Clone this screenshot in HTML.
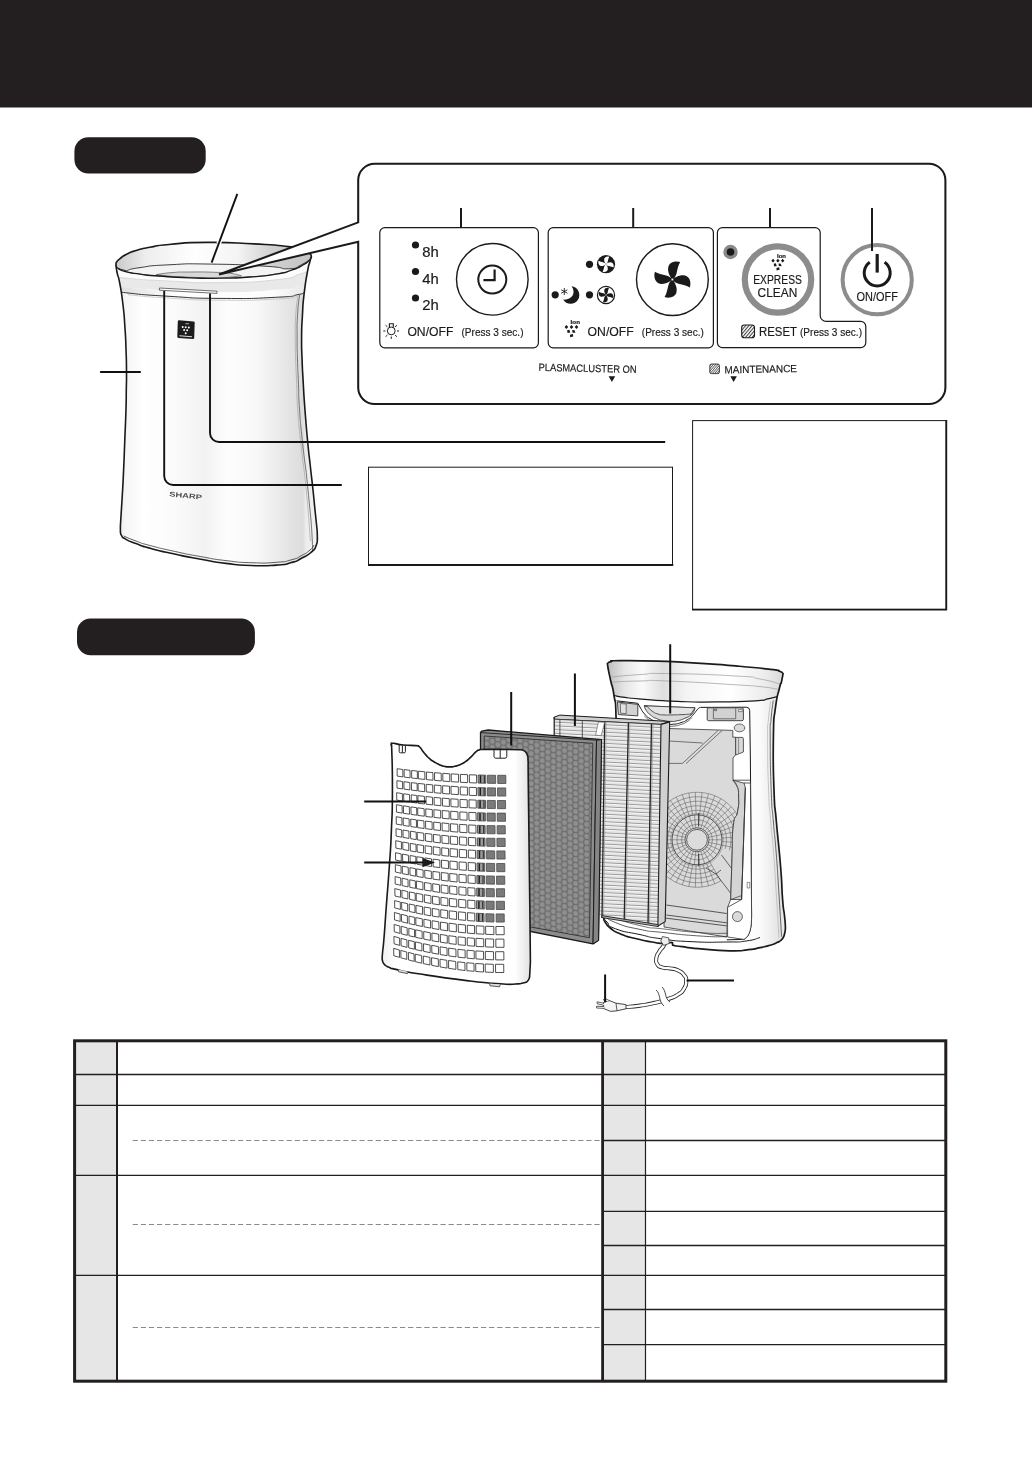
<!DOCTYPE html>
<html><head><meta charset="utf-8">
<style>
html,body{margin:0;padding:0;background:#fff;}
body{width:1032px;height:1457px;overflow:hidden;font-family:"Liberation Sans",sans-serif;}
svg{display:block;will-change:transform;}
text{font-family:"Liberation Sans",sans-serif;fill:#1a1a1a;stroke:#1a1a1a;stroke-width:0.18px;}
</style></head><body>
<svg width="1032" height="1457" viewBox="0 0 1032 1457">
<defs>
<pattern id="hatch" width="2.5" height="2.5" patternUnits="userSpaceOnUse" patternTransform="rotate(-50)"><rect width="2.5" height="2.5" fill="#fff"/><rect width="2.5" height="1" fill="#3a3a3a"/></pattern>
<g id="ion">
<text x="-0.9" y="-6.5" font-size="5.2" font-weight="bold" textLength="9.4" lengthAdjust="spacingAndGlyphs">Ion</text>
<path d="M-6.9,-3.5l1.8,-2l1.8,2l-1.8,2zM-1.8,-3.5l1.8,-2l1.8,2l-1.8,2zM3.2,-3.5l1.8,-2l1.8,2l-1.8,2zM-4.4,-0.2l2.2,-0.5l1,2.7l-2.7,0.6zM0.7,-0.6l2.4,0.3l0.8,2.6l-2.9,-0.1zM-1.6,4.2l3,-0.8l0.3,2.7l-3,0.7z" fill="#1a1a1a"/>
</g>
<path id="blade" d="M0,0C-2.2,-2.5 -5,-7.5 -4,-12C-3.2,-16.4 2,-18.6 7.6,-17C5.6,-14 5,-10 4,-6C3.2,-3 1.8,-1 0,0Z"/>
<g id="fan"><use href="#blade"/><use href="#blade" transform="rotate(90)"/><use href="#blade" transform="rotate(180)"/><use href="#blade" transform="rotate(270)"/></g>
<pattern id="hatch2" width="1.7" height="1.7" patternUnits="userSpaceOnUse" patternTransform="rotate(-50)"><rect width="1.7" height="1.7" fill="#fff"/><rect width="1.7" height="0.8" fill="#555"/></pattern>

<linearGradient id="gbody" x1="116" x2="318" y1="0" y2="0" gradientUnits="userSpaceOnUse">
<stop offset="0" stop-color="#e8e8e8"/><stop offset="0.05" stop-color="#f6f6f6"/><stop offset="0.14" stop-color="#fff"/><stop offset="0.30" stop-color="#fafafa"/><stop offset="0.44" stop-color="#f2f2f2"/><stop offset="0.55" stop-color="#fdfdfd"/><stop offset="0.70" stop-color="#f8f8f8"/><stop offset="0.84" stop-color="#e6e6e6"/><stop offset="0.925" stop-color="#dcdcdc"/><stop offset="0.94" stop-color="#ececec"/><stop offset="1" stop-color="#f2f2f2"/>
</linearGradient>
<linearGradient id="ginner" x1="116" x2="312" y1="0" y2="0" gradientUnits="userSpaceOnUse">
<stop offset="0" stop-color="#c9c9c9"/><stop offset="0.15" stop-color="#ededed"/><stop offset="0.4" stop-color="#fff"/><stop offset="0.62" stop-color="#f4f4f4"/><stop offset="0.8" stop-color="#d0d0d0"/><stop offset="1" stop-color="#c4c4c4"/>
</linearGradient>
<linearGradient id="gband2" x1="116" x2="312" y1="0" y2="0" gradientUnits="userSpaceOnUse"><stop offset="0" stop-color="#dcdcdc"/><stop offset="0.18" stop-color="#f0f0f0"/><stop offset="0.3" stop-color="#fdfdfd"/><stop offset="0.8" stop-color="#fdfdfd"/><stop offset="0.95" stop-color="#eaeaea"/><stop offset="1" stop-color="#e4e4e4"/></linearGradient>
<clipPath id="cbody"><path d="M115.9,265.0C116.4,268.0 116.1,268.0 117.4,274.0C118.7,280.0 117.8,272.7 119.7,283.0C121.6,293.3 121.3,290.3 123.0,305.0C124.7,319.7 123.9,312.3 124.9,327.0C125.9,341.7 125.5,334.3 126.0,349.0C126.5,363.7 126.4,357.3 126.5,371.0C126.6,384.7 126.5,377.3 126.3,390.0C126.1,402.7 126.5,392.3 126.0,409.0C125.5,425.7 125.6,419.7 124.8,440.0C124.0,460.3 124.5,450.0 123.6,470.0C122.7,490.0 123.1,481.3 122.0,500.0C120.9,518.7 120.9,517.3 120.4,526.0L120.4,532.0C120.8,533.2 120.0,533.3 121.6,535.6C123.2,537.9 120.4,536.2 125.2,538.9C130.0,541.6 127.6,540.5 136.0,543.6C144.4,546.7 137.2,544.7 150.4,548.3C163.6,551.9 158.8,550.6 175.6,554.3C192.4,558.0 184.0,556.3 200.8,559.3C217.6,562.3 209.2,561.3 226.0,563.4C242.8,565.5 234.3,564.9 251.1,565.5C267.9,566.1 262.9,566.1 276.3,565.1C289.7,564.1 283.0,564.9 291.4,562.6C299.8,560.3 294.8,561.8 301.5,558.3C308.2,554.8 306.7,556.3 311.6,552.0C316.5,547.7 314.3,549.7 316.2,545.4C318.1,541.1 317.0,541.1 317.4,539.0L317.2,531.0C316.5,524.0 316.4,523.7 315.0,510.0C313.6,496.3 314.6,505.0 313.0,490.0C311.4,475.0 311.9,480.7 310.2,465.0C308.5,449.3 309.6,461.7 307.8,443.0C306.0,424.3 306.4,429.3 304.9,409.0C303.4,388.7 304.1,398.3 303.2,382.0C302.3,365.7 302.6,374.7 302.1,360.0C301.6,345.3 301.5,352.7 301.6,338.0C301.7,323.3 301.6,330.7 302.4,316.0C303.2,301.3 302.4,308.7 304.1,294.0C305.8,279.3 305.5,282.7 307.4,272.0C309.3,261.3 308.5,267.1 309.8,262.0C311.1,256.9 310.9,258.5 311.4,256.7L311.4,256.7C310.8,255.6 312.3,255.6 309.5,253.4C306.7,251.2 310.0,252.3 303.0,250.0C296.0,247.7 304.6,248.6 288.4,246.6C272.2,244.6 281.3,245.3 254.3,243.9C227.3,242.5 235.7,242.2 207.3,242.4C178.9,242.6 188.1,242.9 169.0,244.5C149.9,246.1 160.7,245.4 150.0,247.3C139.3,249.2 144.7,248.1 137.0,250.3C129.3,252.5 132.7,251.2 127.0,254.0C121.3,256.8 123.5,255.9 120.0,258.6C116.5,261.3 117.9,260.2 116.6,262.0C115.3,263.8 116.3,263.4 116.1,264.1Z"/></clipPath>

<linearGradient id="grim2" x1="607" x2="783" y1="0" y2="0" gradientUnits="userSpaceOnUse">
<stop offset="0" stop-color="#bdbdbd"/><stop offset="0.1" stop-color="#e6e6e6"/><stop offset="0.2" stop-color="#fafafa"/><stop offset="0.32" stop-color="#dedede"/><stop offset="0.45" stop-color="#f4f4f4"/><stop offset="0.7" stop-color="#fff"/><stop offset="0.9" stop-color="#ececec"/><stop offset="1" stop-color="#d8d8d8"/>
</linearGradient>
<linearGradient id="gbody2" x1="740" x2="786" y1="0" y2="0" gradientUnits="userSpaceOnUse">
<stop offset="0" stop-color="#fff"/><stop offset="0.45" stop-color="#fafafa"/><stop offset="0.7" stop-color="#ececec"/><stop offset="0.88" stop-color="#e2e2e2"/><stop offset="1" stop-color="#f2f2f2"/>
</linearGradient>
<linearGradient id="ggrille" x1="384" x2="531" y1="0" y2="0" gradientUnits="userSpaceOnUse">
<stop offset="0" stop-color="#f2f2f2"/><stop offset="0.08" stop-color="#fff"/><stop offset="0.89" stop-color="#fff"/><stop offset="0.96" stop-color="#ebebeb"/><stop offset="1" stop-color="#e2e2e2"/>
</linearGradient>
<pattern id="honey" width="11.1" height="6" patternUnits="userSpaceOnUse" patternTransform="translate(484,736) skewY(5)">
<rect width="11.1" height="6" fill="#6e6e6e"/><circle cx="2.8" cy="1.5" r="2.45" fill="#909090"/><circle cx="2.8" cy="7.5" r="2.45" fill="#909090"/><circle cx="8.35" cy="4.5" r="2.45" fill="#909090"/><circle cx="8.35" cy="-1.5" r="2.45" fill="#909090"/>
</pattern>
<pattern id="pleat" width="10" height="3.73" patternUnits="userSpaceOnUse" patternTransform="translate(600,724) skewY(3)">
<rect width="10" height="3.73" fill="#e4e4e4"/><rect y="0" width="10" height="0.8" fill="#7c7c7c"/><rect y="0.8" width="10" height="1.1" fill="#f6f6f6"/>
</pattern>
<clipPath id="cbody2"><path d="M607.4,663.6C608.6,662.9 607.0,662.6 611.0,661.6C615.0,660.6 603.7,660.8 619.4,660.7C635.1,660.6 632.3,660.4 658.1,661.2C683.9,662.0 671.0,661.6 696.9,663.2C722.8,664.8 711.2,663.8 735.7,665.9C760.2,668.0 755.9,667.6 770.5,669.4C785.1,671.2 775.3,669.8 779.5,671.2C783.7,672.6 781.9,672.8 783.1,673.6L781.3,682.8C780.6,684.8 781.3,680.4 779.3,688.8C777.3,697.2 777.4,692.0 775.4,708.1C773.4,724.2 773.9,709.9 773.4,737.2C772.9,764.5 773.0,761.7 774.0,790.0C775.0,818.3 774.2,796.4 776.4,822.0C778.6,847.6 778.5,840.9 780.6,866.7C782.7,892.5 781.3,883.4 782.6,899.5C783.9,915.6 783.5,906.5 784.4,915.0C785.3,923.5 785.0,919.7 785.3,925.0C785.6,930.3 785.2,929.0 785.2,931.0L784.0,936.0C783.1,937.3 783.7,937.6 781.4,939.8C779.1,942.0 780.8,940.8 777.0,942.6C773.2,944.4 775.7,943.5 770.0,945.2C764.3,946.9 767.2,946.1 760.0,947.6C752.8,949.1 758.7,948.5 748.5,949.6C738.3,950.7 746.2,951.1 729.5,950.8C712.8,950.5 714.3,950.0 698.5,948.6C682.7,947.2 690.0,947.6 682.0,946.6C674.0,945.6 677.5,946.3 674.4,945.6C671.3,944.9 673.4,945.4 672.6,944.4C671.8,943.4 673.5,943.1 672.0,942.6C670.5,942.1 671.8,942.8 668.0,943.0C664.2,943.2 665.8,943.6 660.5,943.3C655.2,943.0 660.0,943.5 652.0,942.0C644.0,940.5 646.8,941.4 636.5,938.8C626.2,936.2 629.8,937.8 621.0,934.2C612.2,930.6 615.9,932.7 610.2,928.0C604.5,923.3 606.1,922.8 604.0,920.2L603.5,915.0C604.3,903.3 603.2,911.7 606.0,880.0C608.8,848.3 608.8,860.0 612.0,820.0C615.2,780.0 614.2,794.7 615.5,760.0C616.8,725.3 616.5,737.5 616.0,716.0C615.5,694.5 615.8,707.5 614.0,695.5C612.2,683.5 612.5,689.2 610.5,680.0C608.5,670.8 608.8,672.0 608.0,668.0Z"/></clipPath><clipPath id="cfan"><path d="M664.0,780.0L733.0,780.2L737.0,786.0C737.5,789.0 738.4,786.6 738.6,795.0C738.8,803.4 739.4,801.2 737.7,811.2C736.0,821.2 735.2,811.2 733.4,825.1C731.6,839.0 733.1,828.2 732.2,853.0C731.3,877.8 731.2,884.0 730.7,899.5L664,899.5Z"/></clipPath></defs>
<!-- HEADER -->
<rect x="0" y="0" width="1032" height="107.5" fill="#231f20"/>
<rect x="74.4" y="137.2" width="131.3" height="36.3" rx="14" fill="#231f20"/>
<rect x="77" y="618.6" width="177.9" height="36.6" rx="13.5" fill="#231f20"/>

<g>
<path d="M115.9,265.0C116.4,268.0 116.1,268.0 117.4,274.0C118.7,280.0 117.8,272.7 119.7,283.0C121.6,293.3 121.3,290.3 123.0,305.0C124.7,319.7 123.9,312.3 124.9,327.0C125.9,341.7 125.5,334.3 126.0,349.0C126.5,363.7 126.4,357.3 126.5,371.0C126.6,384.7 126.5,377.3 126.3,390.0C126.1,402.7 126.5,392.3 126.0,409.0C125.5,425.7 125.6,419.7 124.8,440.0C124.0,460.3 124.5,450.0 123.6,470.0C122.7,490.0 123.1,481.3 122.0,500.0C120.9,518.7 120.9,517.3 120.4,526.0L120.4,532.0C120.8,533.2 120.0,533.3 121.6,535.6C123.2,537.9 120.4,536.2 125.2,538.9C130.0,541.6 127.6,540.5 136.0,543.6C144.4,546.7 137.2,544.7 150.4,548.3C163.6,551.9 158.8,550.6 175.6,554.3C192.4,558.0 184.0,556.3 200.8,559.3C217.6,562.3 209.2,561.3 226.0,563.4C242.8,565.5 234.3,564.9 251.1,565.5C267.9,566.1 262.9,566.1 276.3,565.1C289.7,564.1 283.0,564.9 291.4,562.6C299.8,560.3 294.8,561.8 301.5,558.3C308.2,554.8 306.7,556.3 311.6,552.0C316.5,547.7 314.3,549.7 316.2,545.4C318.1,541.1 317.0,541.1 317.4,539.0L317.2,531.0C316.5,524.0 316.4,523.7 315.0,510.0C313.6,496.3 314.6,505.0 313.0,490.0C311.4,475.0 311.9,480.7 310.2,465.0C308.5,449.3 309.6,461.7 307.8,443.0C306.0,424.3 306.4,429.3 304.9,409.0C303.4,388.7 304.1,398.3 303.2,382.0C302.3,365.7 302.6,374.7 302.1,360.0C301.6,345.3 301.5,352.7 301.6,338.0C301.7,323.3 301.6,330.7 302.4,316.0C303.2,301.3 302.4,308.7 304.1,294.0C305.8,279.3 305.5,282.7 307.4,272.0C309.3,261.3 308.5,267.1 309.8,262.0C311.1,256.9 310.9,258.5 311.4,256.7L311.4,256.7C310.8,255.6 312.3,255.6 309.5,253.4C306.7,251.2 310.0,252.3 303.0,250.0C296.0,247.7 304.6,248.6 288.4,246.6C272.2,244.6 281.3,245.3 254.3,243.9C227.3,242.5 235.7,242.2 207.3,242.4C178.9,242.6 188.1,242.9 169.0,244.5C149.9,246.1 160.7,245.4 150.0,247.3C139.3,249.2 144.7,248.1 137.0,250.3C129.3,252.5 132.7,251.2 127.0,254.0C121.3,256.8 123.5,255.9 120.0,258.6C116.5,261.3 117.9,260.2 116.6,262.0C115.3,263.8 116.3,263.4 116.1,264.1Z" fill="url(#gbody)"/>
<g clip-path="url(#cbody)">
<path d="M311.4,256.7C310.8,255.6 312.3,255.6 309.5,253.4C306.7,251.2 310.0,252.3 303.0,250.0C296.0,247.7 304.6,248.6 288.4,246.6C272.2,244.6 281.3,245.3 254.3,243.9C227.3,242.5 235.7,242.2 207.3,242.4C178.9,242.6 188.1,242.9 169.0,244.5C149.9,246.1 160.7,245.4 150.0,247.3C139.3,249.2 144.7,248.1 137.0,250.3C129.3,252.5 132.7,251.2 127.0,254.0C121.3,256.8 123.5,255.9 120.0,258.6C116.5,261.3 117.9,260.2 116.6,262.0C115.3,263.8 116.3,263.4 116.1,264.1L116.3,265.5C117.0,266.5 115.1,266.5 118.4,268.6C121.7,270.7 119.1,269.9 126.3,271.8C133.5,273.7 129.3,272.8 140.0,274.2C150.7,275.6 141.6,274.8 158.3,276.0C175.0,277.2 169.4,277.1 190.0,277.8C210.6,278.5 200.0,278.5 220.0,278.2C240.0,277.9 231.5,278.3 250.0,277.0C268.5,275.7 261.6,276.5 275.6,274.2C289.6,271.9 282.9,273.1 292.0,270.0C301.1,266.9 297.3,268.2 303.0,265.0C308.7,261.8 306.2,263.2 309.0,260.5C311.8,257.8 310.5,258.2 311.3,257.0Z" fill="url(#ginner)"/>
<path d="M126.3,270.8C130.9,269.7 125.8,269.6 140.0,267.6C154.2,265.6 145.1,266.0 169.0,264.8C192.9,263.6 179.6,263.6 211.6,264.1C243.6,264.6 239.4,264.6 265.0,266.2C290.6,267.8 276.7,269.0 288.4,268.8C300.1,268.6 296.1,266.7 300.0,265.6L309.0,260.5C307.0,262.0 308.7,261.8 303.0,265.0C297.3,268.2 301.1,266.9 292.0,270.0C282.9,273.1 289.6,271.9 275.6,274.2C261.6,276.5 268.5,275.7 250.0,277.0C231.5,278.3 240.0,277.9 220.0,278.2C200.0,278.5 210.6,278.5 190.0,277.8C169.4,277.1 175.0,277.2 158.3,276.0C141.6,274.8 150.7,275.6 140.0,274.2C129.3,272.8 133.5,273.7 126.3,271.8C119.1,269.9 121.0,269.7 118.4,268.6Z" fill="#f3f3f3" stroke="#2a2a2a" stroke-width="0.9"/>
<path d="M156.2,274.6C161.5,273.9 160.6,273.5 172.0,272.6C183.4,271.7 175.0,272.1 190.3,272.0C205.6,271.9 204.1,271.9 218.0,272.4C231.9,272.9 224.2,272.4 232.0,273.6C239.8,274.8 238.3,275.1 241.5,275.9L220,278.2L175,276.8Z" fill="#d9d9d9" stroke="#555" stroke-width="0.7"/>
<path d="M116.3,265.5C117.0,266.5 115.1,266.5 118.4,268.6C121.7,270.7 119.1,269.9 126.3,271.8C133.5,273.7 129.3,272.8 140.0,274.2C150.7,275.6 141.6,274.8 158.3,276.0C175.0,277.2 169.4,277.1 190.0,277.8C210.6,278.5 200.0,278.5 220.0,278.2C240.0,277.9 231.5,278.3 250.0,277.0C268.5,275.7 261.6,276.5 275.6,274.2C289.6,271.9 282.9,273.1 292.0,270.0C301.1,266.9 297.3,268.2 303.0,265.0C308.7,261.8 306.2,263.2 309.0,260.5C311.8,257.8 310.5,258.2 311.3,257.0L309.8,270L309.8,270.0C306.5,271.3 311.4,270.7 300.0,274.0C288.6,277.3 302.3,276.9 275.6,279.8C248.9,282.7 255.5,282.2 220.0,282.6C184.5,283.0 200.7,282.5 169.0,281.0C137.3,279.5 142.1,279.5 125.0,278.0C107.9,276.5 120.1,277.0 117.6,276.5Z" fill="#fcfcfc"/>
<path d="M117.6,276.5C120.1,277.0 107.9,276.5 125.0,278.0C142.1,279.5 137.3,279.5 169.0,281.0C200.7,282.5 184.5,283.0 220.0,282.6C255.5,282.2 248.9,282.7 275.6,279.8C302.3,276.9 288.6,277.3 300.0,274.0C311.4,270.7 306.5,271.3 309.8,270.0L308.6,281.5L308.6,281.5C305.7,282.7 311.0,282.2 300.0,285.0C289.0,287.8 302.3,287.4 275.6,289.8C248.9,292.2 255.5,292.1 220.0,292.3C184.5,292.5 200.3,292.1 169.0,290.5C137.7,288.9 142.7,289.0 126.0,287.5C109.3,286.0 121.2,286.5 118.8,286.0Z" fill="#e9e9e9"/>
<path d="M118.8,286.0C121.2,286.5 109.3,286.0 126.0,287.5C142.7,289.0 137.7,288.9 169.0,290.5C200.3,292.1 184.5,292.5 220.0,292.3C255.5,292.1 248.9,292.2 275.6,289.8C302.3,287.4 289.0,287.8 300.0,285.0C311.0,282.2 305.7,282.7 308.6,281.5L304.5,292L304.5,292.0C302.3,292.9 307.6,292.8 298.0,294.6C288.4,296.4 301.6,296.0 275.6,297.3C249.6,298.6 255.5,298.7 220.0,298.4C184.5,298.1 199.7,298.1 169.0,296.3C138.3,294.5 144.3,294.8 128.0,293.0C111.7,291.2 122.8,291.7 120.2,291.0Z" fill="url(#gband2)"/>
<path d="M117.6,276.5C120.1,277.0 107.9,276.5 125.0,278.0C142.1,279.5 137.3,279.5 169.0,281.0C200.7,282.5 184.5,283.0 220.0,282.6C255.5,282.2 248.9,282.7 275.6,279.8C302.3,276.9 288.6,277.3 300.0,274.0C311.4,270.7 306.5,271.3 309.8,270.0" fill="none" stroke="#cfcfcf" stroke-width="0.7"/>
<path d="M120.2,291.0C122.8,291.7 111.7,291.2 128.0,293.0C144.3,294.8 138.3,294.5 169.0,296.3C199.7,298.1 184.5,298.1 220.0,298.4C255.5,298.7 249.6,298.6 275.6,297.3C301.6,296.0 288.4,296.4 298.0,294.6C307.6,292.8 302.3,292.9 304.5,292.0" fill="none" stroke="#333" stroke-width="1"/>
<path d="M128.0,294.8C141.7,295.9 138.3,296.3 169.0,298.1C199.7,299.9 184.5,299.9 220.0,300.2C255.5,300.5 249.6,300.4 275.6,299.1C301.6,297.8 290.5,297.3 298.0,296.4" fill="none" stroke="#bbb" stroke-width="0.7"/>
<path d="M299.5,295.0C298.8,302.0 298.3,301.7 297.5,316.0C296.7,330.3 297.1,323.3 297.1,338.0C297.1,352.7 297.1,345.3 297.5,360.0C297.9,374.7 297.7,365.7 298.4,382.0C299.1,398.3 298.1,388.7 299.5,409.0C300.9,429.3 299.8,416.0 302.6,443.0C305.4,470.0 304.8,457.3 308.0,490.0C311.2,522.7 311.3,520.3 312.3,541.0C313.3,561.7 311.4,548.3 311.0,552.0" fill="none" stroke="#555" stroke-width="0.8"/>
<path d="M297.7,297.0C297.0,303.3 296.5,302.3 295.7,316.0C294.9,329.7 295.3,323.3 295.3,338.0C295.3,352.7 295.3,345.3 295.7,360.0C296.1,374.7 295.9,365.7 296.6,382.0C297.3,398.3 296.3,388.7 297.7,409.0C299.1,429.3 298.0,416.0 300.8,443.0C303.6,470.0 303.0,457.3 306.2,490.0C309.4,522.7 309.0,524.0 310.4,541.0" fill="none" stroke="#999" stroke-width="0.6"/>
<path d="M123.6,536.0C127.7,537.7 127.1,537.8 136.0,541.0C144.9,544.2 137.2,542.1 150.4,545.6C163.6,549.1 158.8,547.9 175.6,551.6C192.4,555.3 184.0,553.6 200.8,556.6C217.6,559.6 209.2,558.6 226.0,560.6C242.8,562.6 234.3,562.1 251.1,562.7C267.9,563.3 262.9,563.3 276.3,562.3C289.7,561.3 283.0,562.0 291.4,559.8C299.8,557.6 295.3,558.9 301.5,555.6C307.7,552.3 305.8,553.5 310.0,550.0C314.2,546.5 312.7,546.7 314.0,545.0" fill="none" stroke="#333" stroke-width="0.8"/>
</g>
<path d="M115.9,265.0C116.4,268.0 116.1,268.0 117.4,274.0C118.7,280.0 117.8,272.7 119.7,283.0C121.6,293.3 121.3,290.3 123.0,305.0C124.7,319.7 123.9,312.3 124.9,327.0C125.9,341.7 125.5,334.3 126.0,349.0C126.5,363.7 126.4,357.3 126.5,371.0C126.6,384.7 126.5,377.3 126.3,390.0C126.1,402.7 126.5,392.3 126.0,409.0C125.5,425.7 125.6,419.7 124.8,440.0C124.0,460.3 124.5,450.0 123.6,470.0C122.7,490.0 123.1,481.3 122.0,500.0C120.9,518.7 120.9,517.3 120.4,526.0L120.4,532.0C120.8,533.2 120.0,533.3 121.6,535.6C123.2,537.9 120.4,536.2 125.2,538.9C130.0,541.6 127.6,540.5 136.0,543.6C144.4,546.7 137.2,544.7 150.4,548.3C163.6,551.9 158.8,550.6 175.6,554.3C192.4,558.0 184.0,556.3 200.8,559.3C217.6,562.3 209.2,561.3 226.0,563.4C242.8,565.5 234.3,564.9 251.1,565.5C267.9,566.1 262.9,566.1 276.3,565.1C289.7,564.1 283.0,564.9 291.4,562.6C299.8,560.3 294.8,561.8 301.5,558.3C308.2,554.8 306.7,556.3 311.6,552.0C316.5,547.7 314.3,549.7 316.2,545.4C318.1,541.1 317.0,541.1 317.4,539.0L317.2,531.0C316.5,524.0 316.4,523.7 315.0,510.0C313.6,496.3 314.6,505.0 313.0,490.0C311.4,475.0 311.9,480.7 310.2,465.0C308.5,449.3 309.6,461.7 307.8,443.0C306.0,424.3 306.4,429.3 304.9,409.0C303.4,388.7 304.1,398.3 303.2,382.0C302.3,365.7 302.6,374.7 302.1,360.0C301.6,345.3 301.5,352.7 301.6,338.0C301.7,323.3 301.6,330.7 302.4,316.0C303.2,301.3 302.4,308.7 304.1,294.0C305.8,279.3 305.5,282.7 307.4,272.0C309.3,261.3 308.5,267.1 309.8,262.0C311.1,256.9 310.9,258.5 311.4,256.7L311.4,256.7C310.8,255.6 312.3,255.6 309.5,253.4C306.7,251.2 310.0,252.3 303.0,250.0C296.0,247.7 304.6,248.6 288.4,246.6C272.2,244.6 281.3,245.3 254.3,243.9C227.3,242.5 235.7,242.2 207.3,242.4C178.9,242.6 188.1,242.9 169.0,244.5C149.9,246.1 160.7,245.4 150.0,247.3C139.3,249.2 144.7,248.1 137.0,250.3C129.3,252.5 132.7,251.2 127.0,254.0C121.3,256.8 123.5,255.9 120.0,258.6C116.5,261.3 117.9,260.2 116.6,262.0C115.3,263.8 116.3,263.4 116.1,264.1Z" fill="none" stroke="#1a1a1a" stroke-width="1.6" stroke-linejoin="round"/>
<path d="M116.3,265.5C117.0,266.5 115.1,266.5 118.4,268.6C121.7,270.7 119.1,269.9 126.3,271.8C133.5,273.7 129.3,272.8 140.0,274.2C150.7,275.6 141.6,274.8 158.3,276.0C175.0,277.2 169.4,277.1 190.0,277.8C210.6,278.5 200.0,278.5 220.0,278.2C240.0,277.9 231.5,278.3 250.0,277.0C268.5,275.7 261.6,276.5 275.6,274.2C289.6,271.9 282.9,273.1 292.0,270.0C301.1,266.9 297.3,268.2 303.0,265.0C308.7,261.8 306.2,263.2 309.0,260.5C311.8,257.8 310.5,258.2 311.3,257.0" fill="none" stroke="#1a1a1a" stroke-width="1.3"/>
<path d="M159.4,288L217,291.2L217,293.4L159.4,290.2Z" fill="#fff" stroke="#333" stroke-width="0.7"/>
<path d="M179,320.2L193.6,321.4a1.2,1.2 0 0 1 1.1,1.3L194.2,338a1.2,1.2 0 0 1 -1.3,1.1L178.4,337.9a1.2,1.2 0 0 1 -1.1,-1.3L177.8,321.3a1.2,1.2 0 0 1 1.2,-1.1Z" fill="#1c1c1c"/>
<g fill="#fff"><circle cx="182.7" cy="327" r="1"/><circle cx="185.7" cy="327.2" r="1"/><circle cx="188.8" cy="327.4" r="1"/><circle cx="184.1" cy="330" r="1"/><circle cx="187.2" cy="330.2" r="1"/><circle cx="185.7" cy="333.2" r="1"/><rect x="179.4" y="335.8" width="12.6" height="1" transform="rotate(4 186 336)" opacity="0.85"/><rect x="185.4" y="323.4" width="3.6" height="0.8" opacity="0.8"/></g>
<text x="169" y="496.3" font-size="6.9" font-weight="bold" textLength="33" lengthAdjust="spacingAndGlyphs" transform="rotate(5.6 169 496.3)" style="fill:#505050;stroke:none">SHARP</text>
<g fill="none" stroke="#111" stroke-width="1.9">
<path d="M225.4,225.7L218.6,243.9" stroke="#fff" stroke-width="4.6"/>
<path d="M237.3,193.9L211.6,262.6"/>
<path d="M100.1,372H140.8"/>
<path d="M164.2,291V476a9,9 0 0 0 9,9H341.8"/>
<path d="M210,293.5V433a9,9 0 0 0 9,9H665.2"/>
</g>
</g>
<!--PANEL-->
<g>
<!-- big callout box with pointer -->
<path d="M358.2,222.4V180.3a16.5,16.5 0 0 1 16.5,-16.5H928.9a16.5,16.5 0 0 1 16.5,16.5V387.5a16.5,16.5 0 0 1 -16.5,16.5H374.7a16.5,16.5 0 0 1 -16.5,-16.5V241.8L219,274.5Z" fill="#fff" stroke="#1a1a1a" stroke-width="2.05" stroke-linejoin="miter"/>
<!-- leaders -->
<g stroke="#1a1a1a" stroke-width="2" fill="none">
<path d="M461,208V228M633.2,208V228M770,208V228M872,208V251"/>
</g>
<!-- panel 1 -->
<rect x="379.8" y="227.6" width="158.6" height="120.2" rx="5" fill="#fff" stroke="#1a1a1a" stroke-width="1.2"/>
<circle cx="415.5" cy="245" r="3.6" fill="#1a1a1a"/><circle cx="415.5" cy="271.5" r="3.6" fill="#1a1a1a"/><circle cx="415.5" cy="298" r="3.6" fill="#1a1a1a"/>
<text x="422.3" y="256.8" font-size="14.2" textLength="16.5" lengthAdjust="spacingAndGlyphs">8h</text>
<text x="422.3" y="283.6" font-size="14.2" textLength="16.5" lengthAdjust="spacingAndGlyphs">4h</text>
<text x="422.3" y="309.8" font-size="14.2" textLength="16.5" lengthAdjust="spacingAndGlyphs">2h</text>
<circle cx="492.3" cy="279.3" r="35.8" fill="#fff" stroke="#1a1a1a" stroke-width="1.4"/>
<circle cx="492.3" cy="279.6" r="14" fill="none" stroke="#1a1a1a" stroke-width="2"/>
<path d="M494.6,269.5V280.2H483.4" fill="none" stroke="#1a1a1a" stroke-width="2.2"/>
<!-- light icon -->
<g stroke="#1a1a1a" stroke-width="1" fill="none">
<circle cx="391.25" cy="330.9" r="3.9"/>
<path d="M389.4,327.3V323.7H393.3V327.3" stroke-width="1.1"/>
<path d="M385.4,331H383.3M397,331H399.1M387.4,335.1L385.6,336.7M395.1,335.1L396.9,336.7M391.25,336.5V338.9M387.4,326.8L385.6,325.3M395.1,326.8L396.9,325.3"/>
</g>
<text x="407.4" y="336" font-size="13.4" textLength="46" lengthAdjust="spacingAndGlyphs">ON/OFF</text>
<text x="461.5" y="335.6" font-size="11.8" textLength="62" lengthAdjust="spacingAndGlyphs">(Press 3 sec.)</text>
<!-- panel 2 -->
<rect x="548.2" y="227.6" width="165.2" height="120.2" rx="5" fill="#fff" stroke="#1a1a1a" stroke-width="1.2"/>
<circle cx="589.5" cy="264.3" r="3.6" fill="#1a1a1a"/><circle cx="589.5" cy="294.8" r="3.6" fill="#1a1a1a"/><circle cx="555.2" cy="294.8" r="3.6" fill="#1a1a1a"/>
<circle cx="606" cy="264.2" r="9.1" fill="#1a1a1a"/>
<use href="#fan" transform="translate(606,264.2) scale(0.44)" fill="#fff"/>
<circle cx="606" cy="295" r="8.6" fill="#fff" stroke="#1a1a1a" stroke-width="1.2"/>
<use href="#fan" transform="translate(606,295) scale(0.42)" fill="#1a1a1a"/>
<path d="M571.6,286.2A8.8,8.8 0 1 1 563.1,299.6C566.6,300.2 570.6,298.8 572.6,295.6C574.2,292.8 573.8,289 571.6,286.2Z" fill="#1a1a1a"/>
<path d="M564.3,288V295M561.2,289.8L567.4,293.2M567.4,289.8L561.2,293.2" stroke="#1a1a1a" stroke-width="0.9" fill="none"/>
<circle cx="672.4" cy="279.6" r="35.9" fill="#fff" stroke="#1a1a1a" stroke-width="1.4"/>
<use href="#fan" transform="translate(672.4,279.6) scale(1.03)" fill="#1a1a1a"/>
<circle cx="672.4" cy="279.6" r="1" fill="#fff"/>
<use href="#ion" transform="translate(571.5,330.5)"/>
<text x="587.6" y="336" font-size="13.4" textLength="46.2" lengthAdjust="spacingAndGlyphs">ON/OFF</text>
<text x="641.8" y="335.6" font-size="11.8" textLength="62" lengthAdjust="spacingAndGlyphs">(Press 3 sec.)</text>
<!-- panel 3 -->
<path d="M722.4,227.6H815.2a5,5 0 0 1 5,5V315.4a6,6 0 0 0 6,6H860.8a5,5 0 0 1 5,5V342.6a5,5 0 0 1 -5,5H722.4a5,5 0 0 1 -5,-5V232.6a5,5 0 0 1 5,-5Z" fill="#fff" stroke="#1a1a1a" stroke-width="1.2"/>
<circle cx="730.5" cy="252" r="7.2" fill="#8a8a8a"/><circle cx="730.5" cy="252" r="3.8" fill="#1a1a1a"/>
<circle cx="778" cy="279.5" r="33.2" fill="#fff" stroke="#8c8c8c" stroke-width="6.2"/>
<use href="#ion" transform="translate(777.9,264) scale(0.95)"/>
<text x="753.2" y="283.8" font-size="13.4" textLength="48.8" lengthAdjust="spacingAndGlyphs">EXPRESS</text>
<text x="757.6" y="296.9" font-size="13.4" textLength="39.7" lengthAdjust="spacingAndGlyphs">CLEAN</text>
<rect x="741.7" y="325" width="12.8" height="12.8" rx="2.6" fill="url(#hatch)" stroke="#1a1a1a" stroke-width="1.1"/>
<text x="759" y="336" font-size="13.4" textLength="38" lengthAdjust="spacingAndGlyphs">RESET</text>
<text x="800" y="335.6" font-size="11.8" textLength="62" lengthAdjust="spacingAndGlyphs">(Press 3 sec.)</text>
<!-- power -->
<circle cx="877.2" cy="279.7" r="34.6" fill="#fff" stroke="#8c8c8c" stroke-width="4"/>
<path d="M872,208V251" stroke="#1a1a1a" stroke-width="2"/>
<path d="M869.8,262.3a13,13 0 1 0 14.8,0" fill="none" stroke="#1a1a1a" stroke-width="3"/>
<path d="M877.2,254V272.6" stroke="#1a1a1a" stroke-width="3.2"/>
<text x="856.5" y="300.9" font-size="13.6" textLength="41.4" lengthAdjust="spacingAndGlyphs">ON/OFF</text>
<!-- bottom labels -->
<text x="538.5" y="370.8" font-size="10.4" textLength="98" lengthAdjust="spacingAndGlyphs" transform="rotate(1.3 538.5 370.8)">PLASMACLUSTER ON</text>
<path d="M608.6,376.2H615.2L611.9,382Z" fill="#1a1a1a"/>
<rect x="709.8" y="364" width="9.6" height="9.6" rx="1.5" fill="url(#hatch2)" stroke="#1a1a1a" stroke-width="0.8"/>
<text x="724.5" y="373.4" font-size="10.4" textLength="72.5" lengthAdjust="spacingAndGlyphs" transform="rotate(-1 724.5 373.4)">MAINTENANCE</text>
<path d="M730.3,376.2H736.9L733.6,382Z" fill="#1a1a1a"/>
</g>
<!--BOXES-->
<g fill="#fff" stroke="#1a1a1a">
<rect x="368.5" y="467.2" width="304" height="97.3" stroke-width="1"/>
<path d="M368,565H673.3" stroke-width="2"/>
<rect x="692.6" y="420.6" width="253.6" height="188.8" stroke-width="1"/>
<path d="M946.3,420V610.3M692,609.6H947" stroke-width="1.8"/>
</g>
<g><path d="M607.4,663.6C608.6,662.9 607.0,662.6 611.0,661.6C615.0,660.6 603.7,660.8 619.4,660.7C635.1,660.6 632.3,660.4 658.1,661.2C683.9,662.0 671.0,661.6 696.9,663.2C722.8,664.8 711.2,663.8 735.7,665.9C760.2,668.0 755.9,667.6 770.5,669.4C785.1,671.2 775.3,669.8 779.5,671.2C783.7,672.6 781.9,672.8 783.1,673.6L781.3,682.8C780.6,684.8 781.3,680.4 779.3,688.8C777.3,697.2 777.4,692.0 775.4,708.1C773.4,724.2 773.9,709.9 773.4,737.2C772.9,764.5 773.0,761.7 774.0,790.0C775.0,818.3 774.2,796.4 776.4,822.0C778.6,847.6 778.5,840.9 780.6,866.7C782.7,892.5 781.3,883.4 782.6,899.5C783.9,915.6 783.5,906.5 784.4,915.0C785.3,923.5 785.0,919.7 785.3,925.0C785.6,930.3 785.2,929.0 785.2,931.0L784.0,936.0C783.1,937.3 783.7,937.6 781.4,939.8C779.1,942.0 780.8,940.8 777.0,942.6C773.2,944.4 775.7,943.5 770.0,945.2C764.3,946.9 767.2,946.1 760.0,947.6C752.8,949.1 758.7,948.5 748.5,949.6C738.3,950.7 746.2,951.1 729.5,950.8C712.8,950.5 714.3,950.0 698.5,948.6C682.7,947.2 690.0,947.6 682.0,946.6C674.0,945.6 677.5,946.3 674.4,945.6C671.3,944.9 673.4,945.4 672.6,944.4C671.8,943.4 673.5,943.1 672.0,942.6C670.5,942.1 671.8,942.8 668.0,943.0C664.2,943.2 665.8,943.6 660.5,943.3C655.2,943.0 660.0,943.5 652.0,942.0C644.0,940.5 646.8,941.4 636.5,938.8C626.2,936.2 629.8,937.8 621.0,934.2C612.2,930.6 615.9,932.7 610.2,928.0C604.5,923.3 606.1,922.8 604.0,920.2L603.5,915.0C604.3,903.3 603.2,911.7 606.0,880.0C608.8,848.3 608.8,860.0 612.0,820.0C615.2,780.0 614.2,794.7 615.5,760.0C616.8,725.3 616.5,737.5 616.0,716.0C615.5,694.5 615.8,707.5 614.0,695.5C612.2,683.5 612.5,689.2 610.5,680.0C608.5,670.8 608.8,672.0 608.0,668.0Z" fill="#fff"/>
<rect x="748" y="690" width="40" height="262" fill="url(#gbody2)" clip-path="url(#cbody2)"/>
<path d="M607.4,663.6C608.6,662.9 607.0,662.6 611.0,661.6C615.0,660.6 603.7,660.8 619.4,660.7C635.1,660.6 632.3,660.4 658.1,661.2C683.9,662.0 671.0,661.6 696.9,663.2C722.8,664.8 711.2,663.8 735.7,665.9C760.2,668.0 755.9,667.6 770.5,669.4C785.1,671.2 775.3,669.8 779.5,671.2C783.7,672.6 781.9,672.8 783.1,673.6L781.3,682.8L777.3,696.5L768.0,698.8C763.7,699.5 772.2,699.8 755.0,700.8C737.8,701.8 742.1,701.7 716.3,701.9C690.5,702.1 703.3,702.4 677.5,701.4C651.7,700.4 656.3,700.1 638.8,698.8C621.3,697.5 633.3,698.5 625.0,697.4C616.7,696.3 617.7,696.1 614.0,695.5L610.5,680Z" fill="url(#grim2)"/>
<path d="M611.5,677.0C621.0,676.2 621.2,675.7 640.0,674.6C658.8,673.5 636.1,673.1 668.0,673.6C699.9,674.1 705.0,674.2 735.7,676.0C766.4,677.8 745.2,676.3 760.0,679.0C774.8,681.7 773.3,682.3 780.0,684.0" fill="none" stroke="#999" stroke-width="0.7"/>
<path d="M612.6,682.0C621.7,681.7 621.5,681.3 640.0,681.0C658.5,680.7 636.1,679.7 668.0,681.0C699.9,682.3 705.0,682.9 735.7,684.8C766.4,686.7 745.7,685.1 760.0,686.6C774.3,688.1 772.4,688.5 778.6,689.4" fill="none" stroke="#999" stroke-width="0.7"/>
<path d="M614.0,695.5C617.7,696.1 616.7,696.3 625.0,697.4C633.3,698.5 621.3,697.5 638.8,698.8C656.3,700.1 651.7,700.4 677.5,701.4C703.3,702.4 690.5,702.1 716.3,701.9C742.1,701.7 737.8,701.8 755.0,700.8C772.2,699.8 760.6,700.2 768.0,698.8C775.4,697.4 774.2,697.3 777.3,696.5" fill="none" stroke="#1a1a1a" stroke-width="1.2"/>
<path d="M668.0,728.5L732.8,730.4L732.8,737.2L735.7,737.2L735.7,754.7L733.0,758.0L733.0,780.2L737.0,786.0C737.5,789.0 738.4,786.6 738.6,795.0C738.8,803.4 739.4,801.2 737.7,811.2C736.0,821.2 735.2,811.2 733.4,825.1C731.6,839.0 733.1,828.2 732.2,853.0C731.3,877.8 731.2,884.0 730.7,899.5L727.6,907.3L726.8,937L664,927L664,728.5Z" fill="#dadada" stroke="#333" stroke-width="0.8"/>
<path d="M616.5,700.8L637.8,703.3L640.5,708.0C641.9,710.0 641.4,710.5 644.6,714.0C647.8,717.5 645.5,715.9 650.0,718.6C654.5,721.3 652.8,720.3 658.1,722.1C663.4,723.9 660.8,723.3 666.0,724.0C671.2,724.7 668.6,724.7 673.6,724.2C678.6,723.7 676.5,724.1 681.0,722.6C685.5,721.1 683.4,722.2 687.2,719.8C691.0,717.4 689.3,718.6 692.5,715.4C695.7,712.2 694.7,712.6 696.9,710.1C699.1,707.6 697.7,708.9 699.0,708.0C700.3,707.1 700.2,707.6 700.8,707.4L746.3,707.2" fill="none" stroke="#1a1a1a" stroke-width="1"/>
<path d="M644.4,715.9C646.2,717.4 645.3,717.8 649.8,720.5C654.3,723.2 652.6,722.2 657.9,724.0C663.2,725.8 660.6,725.2 665.8,725.9C671.0,726.6 668.4,726.6 673.4,726.1C678.4,725.6 676.3,726.0 680.8,724.5C685.3,723.0 683.2,724.1 687.0,721.7C690.8,719.3 690.5,718.8 692.3,717.3" fill="none" stroke="#444" stroke-width="0.8"/>
<path d="M644.2,705.8C644.9,707.4 644.3,707.6 646.4,710.6C648.5,713.6 647.0,712.2 650.4,714.9C653.8,717.6 652.1,716.7 656.6,718.6C661.1,720.5 659.3,719.8 664.0,720.7C668.7,721.6 666.3,721.4 670.8,721.4C675.3,721.4 672.9,721.7 677.5,720.7C682.1,719.7 680.1,720.3 684.6,718.4C689.1,716.5 687.9,717.2 691.0,714.9C694.1,712.6 692.5,713.8 693.8,711.4C695.1,709.0 694.6,709.0 695.0,707.8Z" fill="#d9d9d9" stroke="#333" stroke-width="0.9"/>
<path d="M647.5,706.6C649.0,708.1 648.5,708.5 652.0,711.0C655.5,713.5 654.0,712.7 658.0,714.0C662.0,715.3 659.3,714.6 664.0,714.9C668.7,715.2 666.0,715.0 672.0,714.9C678.0,714.8 675.7,714.9 682.0,714.6C688.3,714.3 688.0,714.2 691.0,714.0L695,707.8L644.2,705.8Z" fill="#e4e4e4" stroke="#333" stroke-width="0.8"/>
<path d="M617.4,702L637.8,704.4V715.9L618.4,714.6Z" fill="#d2d2d2" stroke="#333" stroke-width="0.9"/>
<path d="M620.3,703.6L626.2,704V713.6L620.6,713.2Z" fill="#e2e2e2" stroke="#444" stroke-width="0.7"/>
<rect x="707.2" y="707.8" width="36.2" height="12.9" rx="1.5" fill="#d2d2d2" stroke="#333" stroke-width="0.9"/>
<path d="M713.4,708.2V718.8H735.7V708.2M714.6,710.6h2v-1.6h-2z" fill="none" stroke="#444" stroke-width="0.7"/>
<path d="M738.6,709.6h3.6v2h-3.6z" fill="#fff" stroke="#444" stroke-width="0.6"/>
<ellipse cx="739.5" cy="727.9" rx="5.3" ry="3.9" fill="#dadada" stroke="#444" stroke-width="0.8"/>
<path d="M735.7,737.4H742a1.4,1.4 0 0 1 1.4,1.4V752L735.7,755Z" fill="#dadada" stroke="#333" stroke-width="0.8"/>
<path d="M738.6,738V753.6" stroke="#555" stroke-width="0.6"/>
<path d="M746.3,707.2a3.4,3.4 0 0 1 3.4,3.4L750.4,760L751.6,915C751.6,928 750,936 744,939.4L726.8,939.8" fill="none" stroke="#1a1a1a" stroke-width="1"/>
<path d="M718.2,730.4L682.4,763.4H668M722,730.6L686,763.6M669,741L702.7,743" fill="none" stroke="#444" stroke-width="0.7"/>
<path d="M733.0,780.2L745.6,783.6L745.4,787.9L741.6,899.5L730.7,899.5L732.2,853.0C732.6,843.7 731.6,839.0 733.4,825.1C735.2,811.2 736.0,821.2 737.7,811.2C739.4,801.2 738.8,803.4 738.6,795.0C738.4,786.6 738.9,790.9 737.0,786.0C735.1,781.1 734.3,782.1 733.0,780.2Z" fill="#d4d4d4" stroke="#333" stroke-width="0.8"/>
<path d="M745.4,787.9L741.6,899.5L727.6,907.3V937L744,939.4C750,936 751.6,928 751.6,915L750.4,783H744Z" fill="#fff" stroke="#333" stroke-width="0.8"/>
<path d="M733,780.2H750.4" stroke="#333" stroke-width="0.8"/>
<path d="M741.6,899.5L745.4,787.9" stroke="#333" stroke-width="0.8"/>
<path d="M730.7,899.5L741.6,895.6V899.5" fill="none" stroke="#333" stroke-width="0.7"/>
<circle cx="737.4" cy="916.6" r="5" fill="#dadada" stroke="#444" stroke-width="0.8"/>
<path d="M747.2,882.4h2.6v5.6h-2.6z" fill="none" stroke="#444" stroke-width="0.6"/>
<g fill="none" stroke="#5e5e5e" stroke-width="0.55" clip-path="url(#cfan)">
<circle cx="697.0" cy="839.8" r="15.5"/>
<circle cx="697.0" cy="839.8" r="20.0"/>
<path d="M711.8,865.3A29.5,29.5 0 1 1 725.1,848.9"/>
<path d="M714.0,869.2A34.0,34.0 0 1 1 729.3,850.3"/>
<path d="M716.2,873.1A38.5,38.5 0 1 1 733.6,851.7"/>
<path d="M718.5,877.0A43.0,43.0 0 1 1 737.9,853.1"/>
<path d="M720.8,880.9A47.5,47.5 0 1 1 742.2,854.5"/>
<path d="M709.0,839.8L722.0,839.8M708.7,842.3L721.5,845.0M708.0,844.7L719.8,850.0M706.7,846.9L717.2,854.5M705.0,848.7L713.7,858.4M703.0,850.2L709.5,861.5M700.7,851.2L704.7,863.6M698.3,851.7L699.6,864.7M695.7,851.7L694.4,864.7M693.3,851.2L689.3,863.6M691.0,850.2L684.5,861.5M689.0,848.7L680.3,858.4M687.3,846.9L676.8,854.5M686.0,844.7L674.2,850.0M685.3,842.3L672.5,845.0M685.0,839.8L672.0,839.8M685.3,837.3L672.5,834.6M686.0,834.9L674.2,829.6M687.3,832.7L676.8,825.1M689.0,830.9L680.3,821.2M691.0,829.4L684.5,818.1M693.3,828.4L689.3,816.0M695.7,827.9L694.4,814.9M698.3,827.9L699.6,814.9M700.7,828.4L704.7,816.0M703.0,829.4L709.5,818.1M705.0,830.9L713.7,821.2M706.7,832.7L717.2,825.1M708.0,834.9L719.8,829.6M708.7,837.3L721.5,834.6M709.5,861.5L720.8,880.9M706.4,863.0L714.8,883.8M703.0,864.1L708.5,885.9M699.6,864.7L702.0,887.0M696.1,864.8L695.3,887.3M692.7,864.4L688.8,886.6M689.3,863.6L682.3,885.0M686.0,862.3L676.2,882.5M683.0,860.5L670.4,879.2M680.3,858.4L665.2,875.1M677.8,855.9L660.6,870.3M675.8,853.0L656.7,865.0M674.2,850.0L653.6,859.1M673.0,846.7L651.3,852.9M672.2,843.3L650.0,846.4M672.0,839.8L649.5,839.8M672.2,836.3L650.0,833.2M673.0,832.9L651.3,826.7M674.2,829.6L653.6,820.5M675.8,826.6L656.7,814.6M677.8,823.7L660.6,809.3M680.3,821.2L665.2,804.5M683.0,819.1L670.4,800.4M686.0,817.3L676.2,797.1M689.3,816.0L682.3,794.6M692.7,815.2L688.8,793.0M696.1,814.8L695.3,792.3M699.6,814.9L702.0,792.6M703.0,815.5L708.5,793.7M706.4,816.6L714.8,795.8M709.5,818.1L720.8,798.7M712.4,820.1L726.2,802.4M715.0,822.4L731.2,806.8M717.2,825.1L735.4,811.9M719.1,828.1L738.9,817.5M720.5,831.2L741.6,823.6M721.5,834.6L743.5,829.9M721.9,838.1L744.4,836.5M721.9,841.5L744.4,843.1M721.5,845.0L743.5,849.7"/>
<circle cx="697.0" cy="839.8" r="25" stroke="#444" stroke-width="0.9"/>
<circle cx="697.0" cy="839.8" r="26.4" stroke="#777" stroke-width="0.5"/>
<circle cx="697.0" cy="839.8" r="12" stroke="#444" stroke-width="0.8" fill="#dadada"/>
<circle cx="697.0" cy="839.8" r="10.4" stroke="#444" stroke-width="0.8" fill="#dcdcdc"/>
<path d="M698.6,813V826M698.6,854V866" stroke="#333" stroke-width="0.9"/>
<path d="M721.5,855L732,869M716,874L730.5,893M706,868L716,874L721,870" stroke="#444" stroke-width="0.8"/>
</g>
<path d="M666.4,905L726.8,913.5M666.4,915L726.8,922.8M665.6,918.1L726.8,925.9" fill="none" stroke="#333" stroke-width="0.8"/>
<path d="M773.2,700.4C772.5,706.9 772.0,707.7 771.0,720.0C770.0,732.3 770.1,713.9 770.2,737.2C770.3,760.5 770.1,761.7 771.2,790.0C772.3,818.3 771.7,801.0 773.4,822.0C775.1,843.0 774.3,828.7 776.2,853.0C778.1,877.3 777.2,867.1 779.0,895.0C780.8,922.9 780.7,922.8 781.6,936.7" fill="none" stroke="#444" stroke-width="0.8"/>
<path d="M770.6,701.4C769.9,707.6 769.4,708.1 768.4,720.0C767.4,731.9 767.5,713.9 767.6,737.2C767.7,760.5 767.5,761.7 768.6,790.0C769.7,818.3 769.1,801.0 770.8,822.0C772.5,843.0 771.7,828.7 773.6,853.0C775.5,877.3 774.6,866.7 776.4,895.0C778.2,923.3 778.1,923.7 779.0,938.0" fill="none" stroke="#aaa" stroke-width="0.6"/>
<path d="M603.5,917.0C604.7,918.7 603.0,918.1 607.0,922.0C611.0,925.9 604.6,924.6 615.6,928.8C626.6,933.0 625.1,931.3 640.0,934.6C654.9,937.9 643.5,936.3 660.2,938.6C676.9,940.9 667.8,940.5 690.0,941.6C712.2,942.7 708.1,942.2 726.8,942.0C745.5,941.8 734.9,942.5 746.0,941.0C757.1,939.5 755.3,938.7 760.0,937.6" fill="none" stroke="#1a1a1a" stroke-width="1"/>
<path d="M606.0,916.0C609.2,918.2 604.3,918.1 615.6,922.6C626.9,927.1 623.9,926.1 640.0,929.4C656.1,932.7 644.0,930.4 664.0,932.6C684.0,934.8 679.1,934.6 700.0,936.0C720.9,937.4 717.9,936.5 726.8,936.7" fill="none" stroke="#333" stroke-width="0.8"/>
<path d="M612.0,917.0C621.3,919.9 622.7,921.6 640.0,925.6C657.3,929.6 644.0,926.7 664.0,929.0C684.0,931.3 679.1,931.1 700.0,932.6C720.9,934.1 717.9,933.1 726.8,933.4" fill="none" stroke="#333" stroke-width="0.7"/>
<path d="M607.4,663.6C608.6,662.9 607.0,662.6 611.0,661.6C615.0,660.6 603.7,660.8 619.4,660.7C635.1,660.6 632.3,660.4 658.1,661.2C683.9,662.0 671.0,661.6 696.9,663.2C722.8,664.8 711.2,663.8 735.7,665.9C760.2,668.0 755.9,667.6 770.5,669.4C785.1,671.2 775.3,669.8 779.5,671.2C783.7,672.6 781.9,672.8 783.1,673.6L781.3,682.8C780.6,684.8 781.3,680.4 779.3,688.8C777.3,697.2 777.4,692.0 775.4,708.1C773.4,724.2 773.9,709.9 773.4,737.2C772.9,764.5 773.0,761.7 774.0,790.0C775.0,818.3 774.2,796.4 776.4,822.0C778.6,847.6 778.5,840.9 780.6,866.7C782.7,892.5 781.3,883.4 782.6,899.5C783.9,915.6 783.5,906.5 784.4,915.0C785.3,923.5 785.0,919.7 785.3,925.0C785.6,930.3 785.2,929.0 785.2,931.0L784.0,936.0C783.1,937.3 783.7,937.6 781.4,939.8C779.1,942.0 780.8,940.8 777.0,942.6C773.2,944.4 775.7,943.5 770.0,945.2C764.3,946.9 767.2,946.1 760.0,947.6C752.8,949.1 758.7,948.5 748.5,949.6C738.3,950.7 746.2,951.1 729.5,950.8C712.8,950.5 714.3,950.0 698.5,948.6C682.7,947.2 690.0,947.6 682.0,946.6C674.0,945.6 677.5,946.3 674.4,945.6C671.3,944.9 673.4,945.4 672.6,944.4C671.8,943.4 673.5,943.1 672.0,942.6C670.5,942.1 671.8,942.8 668.0,943.0C664.2,943.2 665.8,943.6 660.5,943.3C655.2,943.0 660.0,943.5 652.0,942.0C644.0,940.5 646.8,941.4 636.5,938.8C626.2,936.2 629.8,937.8 621.0,934.2C612.2,930.6 615.9,932.7 610.2,928.0C604.5,923.3 606.1,922.8 604.0,920.2L603.5,915.0C604.3,903.3 603.2,911.7 606.0,880.0C608.8,848.3 608.8,860.0 612.0,820.0C615.2,780.0 614.2,794.7 615.5,760.0C616.8,725.3 616.5,737.5 616.0,716.0C615.5,694.5 615.8,707.5 614.0,695.5C612.2,683.5 612.5,689.2 610.5,680.0C608.5,670.8 608.8,672.0 608.0,668.0Z" fill="none" stroke="#1a1a1a" stroke-width="1.7" stroke-linejoin="round"/>
<path d="M665.8,941.5C665.0,943.0 665.8,942.5 663.5,946.0C661.2,949.5 661.4,948.0 659.0,952.0C656.6,956.0 657.0,954.0 656.4,958.0C655.8,962.0 655.3,960.9 657.2,964.0C659.1,967.1 657.7,965.9 662.0,967.4C666.3,968.9 664.7,967.4 670.0,968.4C675.3,969.4 673.3,968.2 678.0,970.4C682.7,972.6 681.3,971.5 684.0,975.0C686.7,978.5 686.2,976.5 686.2,981.0C686.2,985.5 686.7,984.1 684.0,988.6C681.3,993.1 683.3,991.1 678.0,994.6C672.7,998.1 675.7,996.3 668.0,999.0C660.3,1001.7 664.3,1000.6 655.0,1002.8C645.7,1005.0 649.7,1004.2 640.0,1005.6C630.3,1007.0 630.7,1006.5 626.0,1007.0" fill="none" stroke="#2a2a2a" stroke-width="4.1" stroke-linecap="round"/>
<path d="M665.8,941.5C665.0,943.0 665.8,942.5 663.5,946.0C661.2,949.5 661.4,948.0 659.0,952.0C656.6,956.0 657.0,954.0 656.4,958.0C655.8,962.0 655.3,960.9 657.2,964.0C659.1,967.1 657.7,965.9 662.0,967.4C666.3,968.9 664.7,967.4 670.0,968.4C675.3,969.4 673.3,968.2 678.0,970.4C682.7,972.6 681.3,971.5 684.0,975.0C686.7,978.5 686.2,976.5 686.2,981.0C686.2,985.5 686.7,984.1 684.0,988.6C681.3,993.1 683.3,991.1 678.0,994.6C672.7,998.1 675.7,996.3 668.0,999.0C660.3,1001.7 664.3,1000.6 655.0,1002.8C645.7,1005.0 649.7,1004.2 640.0,1005.6C630.3,1007.0 630.7,1006.5 626.0,1007.0" fill="none" stroke="#fff" stroke-width="2.4" stroke-linecap="round"/>
<path d="M662.4,936.6L668.6,937.8L669.4,943.4L663.6,945.4L660.8,941Z" fill="#eee" stroke="#333" stroke-width="0.8"/>
<path d="M656,990C661,994 658,1001 664,1006L670,1002C664,998 667,992 662,987Z" fill="#fff"/>
<path d="M656,990C661,994 658,1001 664,1006M662,987C667,992 664,998 670,1002" fill="none" stroke="#333" stroke-width="0.9"/>
<path d="M626,1004.6L616,1003.2L609.5,1000.6L603.4,1002.4L603.8,1008.6L610.5,1011.4L617,1010.8L626,1008.8Z" fill="#f4f4f4" stroke="#333" stroke-width="0.9" stroke-linejoin="round"/>
<path d="M616,1003.2L617,1010.8M604,1003.4L597.2,1001.8L597,1003.6L603.8,1005.4M604,1006.6L596.6,1006.2L596.6,1008L604,1008.4M609.5,1000.6L604.6,998.4L603.4,1000L607,1001.6" fill="#fff" stroke="#333" stroke-width="0.8" stroke-linejoin="round"/>
<path d="M554.2,717.1L559.9,715.1L669.8,721.5L661,724.4L554.2,719.2Z" fill="#d0d0d0" stroke="#1a1a1a" stroke-width="1"/>
<path d="M554.2,719.2L661,724.4L657.9,924.6L601.7,915.6L554.2,908Z" fill="url(#pleat)"/>
<path d="M661,724.4L669.7,721.9L665.2,921.6L657.9,926Z" fill="#d0d0d0" stroke="#1a1a1a" stroke-width="1.1" stroke-linejoin="round"/>
<path d="M559.9,719.6V740M582.3,720.6V742" stroke="#333" stroke-width="0.8"/>
<path d="M604.7,721.6L602,918M628.4,722.8L624.2,920M651.5,724L648,923.6" stroke="#222" stroke-width="1.3" fill="none"/>
<path d="M606.2,721.6L603.5,918M629.8,722.8L625.6,920M653,724L649.4,923.6" stroke="#999" stroke-width="0.7" fill="none"/>
<path d="M598.4,722L604.6,722.3L601.2,735.6L595.6,735.2Z" fill="#fff" stroke="#555" stroke-width="0.6"/>
<path d="M601.7,915.6L657.9,924.6L658.4,926.6L601.7,917.6Z" fill="#bbb" stroke="#1a1a1a" stroke-width="0.9"/>
<path d="M554.2,717.1V740" stroke="#1a1a1a" stroke-width="1.2"/>
<path d="M554.2,719.2L661,724.4" stroke="#333" stroke-width="0.8"/>
<path d="M480.5,732.4L481.6,731.2L488.2,730L601.5,739.6L598.5,940.3L593,943.9L480.5,921.5Z" fill="#8c8c8c" stroke="#1a1a1a" stroke-width="1.3" stroke-linejoin="round"/>
<path d="M484.2,736L592.8,743.3L589.4,937.7L484.2,918.6Z" fill="url(#honey)" stroke="#3a3a3a" stroke-width="1"/>
<path d="M480.8,732.6L596.5,740.2L593,943.9M596.5,740.2L601.5,739.6" fill="none" stroke="#2a2a2a" stroke-width="1"/>
<path d="M596.5,740.2L601.5,739.6L598.5,940.3L593,943.9Z" fill="#858585" stroke="#1a1a1a" stroke-width="1"/>
<path d="M391.0,745.0C391.3,747.2 391.3,735.6 391.8,751.5C392.3,767.4 392.5,766.5 392.4,792.7C392.3,818.9 392.4,805.8 391.4,830.0C390.4,854.2 391.1,840.3 389.4,865.3C387.7,890.3 388.2,880.8 386.4,905.0C384.6,929.2 385.3,922.3 384.0,938.0C382.7,953.7 383.2,945.1 382.6,952.0C382.0,958.9 382.3,956.4 382.1,958.6L382.6,961.4C383.3,962.5 382.5,962.7 384.6,964.6C386.7,966.5 385.2,965.6 389.0,967.2C392.8,968.8 386.2,967.2 396.0,969.4C405.8,971.6 394.8,970.1 418.4,973.8C442.0,977.5 439.7,977.3 466.9,980.6C494.1,983.9 483.9,982.7 500.0,983.8C516.1,984.9 507.6,984.3 515.3,984.0C523.0,983.7 518.9,984.0 523.0,983.0C527.1,982.0 525.4,983.0 527.6,981.0C529.8,979.0 528.9,978.3 529.6,977.0L530.4,962.0C530.2,945.9 530.5,962.1 529.9,913.8C529.3,865.5 529.3,863.5 528.7,817.0C528.1,770.5 528.4,793.4 528.2,774.4C528.0,755.4 528.3,766.3 528.0,760.0C527.7,753.7 528.3,758.1 527.4,755.4C526.5,752.7 527.1,753.6 525.4,751.8C523.7,750.0 524.4,750.8 522.4,750.1C520.4,749.4 520.5,749.8 519.5,749.7L500.0,749.4C496.2,749.4 494.5,749.4 488.5,749.4C482.5,749.4 485.1,749.3 482.0,749.5C478.9,749.7 481.2,749.2 479.2,749.9C477.2,750.6 479.2,749.0 476.1,751.7C473.0,754.4 473.5,754.6 470.0,757.9C466.5,761.2 468.6,759.4 465.5,761.6C462.4,763.8 464.1,762.9 460.6,764.4C457.1,765.9 458.6,765.4 455.0,766.2C451.4,767.0 453.5,766.9 449.8,766.9C446.1,766.9 447.6,767.0 444.0,766.2C440.4,765.4 442.2,765.9 438.9,764.4C435.6,762.9 437.1,763.7 434.0,761.8C430.9,759.9 432.4,761.1 429.6,758.7C426.8,756.3 427.9,757.2 425.6,754.6C423.3,752.0 424.3,753.3 422.6,751.0C420.9,748.7 421.8,749.4 420.4,747.8C419.0,746.2 420.0,746.9 418.4,746.2C416.8,745.5 420.7,746.0 415.7,745.6C410.7,745.2 410.0,745.7 403.3,745.0C396.6,744.3 398.9,744.2 395.5,743.6C392.1,743.0 394.5,743.1 393.2,743.2C391.9,743.3 392.3,743.2 391.6,743.8C390.9,744.4 391.2,744.6 391.0,745.0Z" fill="url(#ggrille)" stroke="#1a1a1a" stroke-width="1.6" stroke-linejoin="round"/>
<path d="M399.2,745V751.6a1.2,1.2 0 0 0 1.2,1.2H404.2a1.2,1.2 0 0 0 1.2,-1.2V745.4M402.4,745.2V752.6" fill="none" stroke="#222" stroke-width="1"/>
<path d="M494,750V756.4a1.8,1.8 0 0 0 1.8,1.8H505a1.8,1.8 0 0 0 1.8,-1.8V750M500.2,750V758" fill="none" stroke="#222" stroke-width="1"/>
<path d="M398,969.6L398.6,971.8L407.4,973.6L408,971.8M489.5,983.4L490,985.8L499.6,986.8L500.2,984.4" fill="#ddd" stroke="#333" stroke-width="0.8"/>
<path d="M397.1,768.7L402.8,769.5L402.9,776.9L397.2,776.1ZM404.1,769.6L410.0,770.3L410.1,777.8L404.2,777.1ZM411.6,770.5L417.3,771.1L417.4,778.6L411.7,778.0ZM418.3,771.2L424.8,771.8L424.9,779.4L418.4,778.8ZM426.4,772.0L432.9,772.6L433.0,780.2L426.5,779.6ZM434.5,772.7L441.2,773.2L441.3,780.9L434.6,780.4ZM442.8,773.3L449.7,773.8L449.8,781.6L442.9,781.1ZM451.2,773.9L458.5,774.3L458.6,782.1L451.3,781.7ZM460.3,774.4L467.5,774.7L467.7,782.6L460.5,782.3ZM469.3,774.8L476.5,775.0L476.7,783.0L469.5,782.7ZM396.9,780.7L402.5,781.5L402.7,788.9L397.0,788.1ZM403.9,781.7L409.8,782.5L409.9,789.9L404.0,789.1ZM411.4,782.6L417.1,783.3L417.2,790.8L411.5,790.1ZM418.1,783.4L424.6,784.1L424.7,791.7L418.2,791.0ZM426.2,784.3L432.7,784.9L432.8,792.5L426.3,791.9ZM434.3,785.0L441.0,785.6L441.1,793.3L434.4,792.7ZM442.6,785.7L449.5,786.2L449.6,794.0L442.7,793.5ZM451.0,786.3L458.3,786.8L458.4,794.6L451.1,794.2ZM460.2,786.9L467.4,787.2L467.5,795.1L460.3,794.8ZM469.2,787.3L476.4,787.6L476.5,795.6L469.3,795.3ZM396.6,792.7L402.3,793.6L402.5,801.0L396.8,800.1ZM403.6,793.8L409.5,794.6L409.7,802.1L403.8,801.2ZM411.2,794.8L416.8,795.5L417.0,803.0L411.3,802.3ZM417.9,795.6L424.4,796.4L424.5,804.0L418.0,803.2ZM426.0,796.5L432.5,797.3L432.6,804.9L426.1,804.2ZM434.1,797.4L440.8,798.0L440.9,805.7L434.2,805.1ZM442.4,798.1L449.3,798.7L449.4,806.5L442.5,805.9ZM450.8,798.8L458.1,799.3L458.2,807.1L451.0,806.6ZM460.0,799.4L467.2,799.8L467.3,807.7L460.1,807.3ZM469.0,799.8L476.2,800.1L476.3,808.1L469.1,807.8ZM396.4,804.7L402.1,805.7L402.2,813.1L396.5,812.1ZM403.4,805.8L409.3,806.7L409.5,814.2L403.5,813.3ZM410.9,806.9L416.6,807.7L416.8,815.2L411.1,814.4ZM417.7,807.8L424.1,808.7L424.3,816.2L417.8,815.4ZM425.7,808.8L432.3,809.6L432.4,817.2L425.9,816.5ZM433.9,809.7L440.6,810.4L440.7,818.1L434.0,817.4ZM442.2,810.5L449.1,811.1L449.2,818.9L442.4,818.3ZM450.7,811.2L457.9,811.8L458.1,819.6L450.8,819.1ZM459.8,811.9L467.0,812.3L467.1,820.2L459.9,819.8ZM468.8,812.4L476.0,812.7L476.2,820.7L469.0,820.3ZM396.2,816.7L401.9,817.7L402.0,825.1L396.3,824.1ZM403.2,817.9L409.1,818.9L409.2,826.3L403.3,825.4ZM410.7,819.1L416.4,819.9L416.5,827.4L410.9,826.6ZM417.5,820.1L423.9,820.9L424.1,828.5L417.6,827.6ZM425.5,821.1L432.1,821.9L432.2,829.5L425.7,828.7ZM433.7,822.1L440.4,822.8L440.5,830.5L433.8,829.8ZM442.0,822.9L448.9,823.6L449.0,831.3L442.2,830.7ZM450.5,823.7L457.7,824.3L457.9,832.1L450.6,831.5ZM459.6,824.4L466.8,824.8L467.0,832.7L459.8,832.3ZM468.7,824.9L475.9,825.3L476.0,833.2L468.8,832.9ZM396.0,828.7L401.6,829.8L401.8,837.2L396.1,836.1ZM403.0,830.0L408.9,831.0L409.0,838.4L403.1,837.4ZM410.5,831.2L416.2,832.1L416.3,839.6L410.7,838.7ZM417.2,832.3L423.7,833.2L423.9,840.8L417.4,839.8ZM425.3,833.4L431.9,834.2L432.0,841.9L425.5,841.0ZM433.5,834.4L440.2,835.2L440.3,842.9L433.6,842.1ZM441.9,835.3L448.7,836.0L448.9,843.8L442.0,843.1ZM450.3,836.1L457.6,836.8L457.7,844.6L450.4,844.0ZM459.5,836.9L466.7,837.4L466.8,845.3L459.6,844.8ZM468.5,837.4L475.7,837.8L475.8,845.8L468.6,845.4ZM395.7,840.7L401.4,841.8L401.5,849.2L395.9,848.1ZM402.7,842.0L408.7,843.1L408.8,850.6L402.9,849.5ZM410.3,843.4L416.0,844.3L416.1,851.8L410.4,850.9ZM417.0,844.5L423.5,845.5L423.6,853.0L417.2,852.0ZM425.1,845.7L431.7,846.6L431.8,854.2L425.3,853.3ZM433.3,846.7L440.0,847.6L440.1,855.3L433.4,854.4ZM441.7,847.7L448.5,848.5L448.7,856.2L441.8,855.5ZM450.1,848.6L457.4,849.2L457.5,857.1L450.2,856.4ZM459.3,849.4L466.5,849.9L466.6,857.8L459.4,857.3ZM468.3,850.0L475.5,850.4L475.6,858.3L468.4,857.9ZM395.5,852.7L401.2,853.9L401.3,861.2L395.6,860.1ZM402.5,854.1L408.4,855.2L408.6,862.7L402.7,861.5ZM410.1,855.5L415.8,856.5L415.9,864.0L410.2,863.0ZM416.8,856.7L423.3,857.7L423.4,865.3L417.0,864.2ZM424.9,857.9L431.5,858.9L431.6,866.5L425.1,865.6ZM433.1,859.1L439.8,860.0L439.9,867.6L433.2,866.8ZM441.5,860.1L448.4,860.9L448.5,868.7L441.6,867.9ZM449.9,861.0L457.2,861.7L457.3,869.6L450.0,868.9ZM459.1,861.9L466.3,862.4L466.4,870.3L459.2,869.8ZM468.2,862.5L475.4,862.9L475.5,870.9L468.3,870.5ZM395.3,864.7L401.0,865.9L401.1,873.3L395.4,872.0ZM402.3,866.1L408.2,867.3L408.4,874.8L402.4,873.6ZM409.9,867.6L415.6,868.7L415.7,876.2L410.0,875.1ZM416.6,868.9L423.1,870.0L423.2,877.5L416.8,876.4ZM424.7,870.2L431.3,871.2L431.4,878.8L424.9,877.8ZM432.9,871.4L439.6,872.3L439.8,880.0L433.0,879.1ZM441.3,872.5L448.2,873.3L448.3,881.1L441.4,880.3ZM449.7,873.5L457.0,874.2L457.1,882.0L449.9,881.3ZM458.9,874.4L466.1,874.9L466.3,882.8L459.1,882.2ZM468.0,875.0L475.2,875.5L475.3,883.5L468.1,883.0ZM395.1,876.6L400.7,877.9L400.9,885.3L395.2,884.0ZM402.1,878.2L408.0,879.5L408.1,886.9L402.2,885.6ZM409.7,879.8L415.3,880.9L415.5,888.4L409.8,887.3ZM416.4,881.0L422.9,882.2L423.0,889.8L416.5,888.6ZM424.5,882.5L431.1,883.5L431.2,891.1L424.7,890.1ZM432.7,883.7L439.4,884.7L439.6,892.4L432.8,891.4ZM441.1,884.9L448.0,885.8L448.1,893.5L441.2,892.7ZM449.6,885.9L456.8,886.7L457.0,894.5L449.7,893.7ZM458.8,886.8L466.0,887.5L466.1,895.4L458.9,894.7ZM467.8,887.6L475.0,888.1L475.1,896.0L467.9,895.5ZM394.8,888.6L400.5,890.0L400.6,897.3L395.0,896.0ZM401.9,890.2L407.8,891.6L407.9,899.0L402.0,897.7ZM409.4,891.9L415.1,893.0L415.3,900.5L409.6,899.4ZM416.2,893.2L422.7,894.5L422.8,902.0L416.3,900.8ZM424.3,894.7L430.9,895.8L431.0,903.5L424.5,902.3ZM432.5,896.1L439.2,897.1L439.4,904.8L432.6,903.8ZM440.9,897.3L447.8,898.2L447.9,905.9L441.0,905.0ZM449.4,898.4L456.7,899.2L456.8,907.0L449.5,906.2ZM458.6,899.3L465.8,900.0L465.9,907.9L458.7,907.2ZM467.7,900.1L474.9,900.6L475.0,908.6L467.8,908.1ZM394.6,900.6L400.3,902.0L400.4,909.4L394.7,907.9ZM401.6,902.3L407.6,903.7L407.7,911.1L401.8,909.7ZM409.2,904.0L414.9,905.2L415.0,912.7L409.4,911.5ZM416.0,905.4L422.5,906.7L422.6,914.3L416.1,913.0ZM424.1,907.0L430.7,908.1L430.8,915.8L424.3,914.6ZM432.3,908.4L439.0,909.5L439.2,917.1L432.4,916.1ZM440.7,909.7L447.6,910.6L447.7,918.4L440.8,917.4ZM449.2,910.8L456.5,911.6L456.6,919.5L449.3,918.6ZM458.4,911.8L465.6,912.5L465.7,920.4L458.5,919.7ZM467.5,912.6L474.7,913.2L474.8,921.1L467.6,920.6ZM394.4,912.5L400.1,914.0L400.2,921.4L394.5,919.9ZM401.4,914.3L407.3,915.8L407.5,923.2L401.6,921.7ZM409.0,916.1L414.7,917.4L414.8,924.9L409.1,923.6ZM415.8,917.6L422.3,918.9L422.4,926.5L415.9,925.1ZM423.9,919.2L430.5,920.5L430.6,928.1L424.0,926.8ZM432.1,920.7L438.8,921.8L439.0,929.5L432.2,928.4ZM440.5,922.1L447.4,923.0L447.5,930.8L440.6,929.8ZM449.0,923.2L456.3,924.1L456.4,931.9L449.1,931.0ZM458.2,924.3L465.4,925.0L465.6,932.9L458.4,932.2ZM467.3,925.2L474.5,925.7L474.6,933.7L467.4,933.1ZM476.2,925.8L483.9,926.2L484.0,934.2L476.3,933.8ZM485.6,926.2L493.8,926.5L493.9,934.6L485.7,934.3ZM495.9,926.5L504.1,926.5L504.2,934.7L496.0,934.7ZM394.1,924.5L399.8,926.0L400.0,933.4L394.3,931.8ZM401.2,926.3L407.1,927.8L407.3,935.3L401.3,933.8ZM408.8,928.2L414.5,929.6L414.6,937.0L408.9,935.7ZM415.6,929.8L422.1,931.2L422.2,938.7L415.7,937.3ZM423.7,931.5L430.3,932.8L430.4,940.4L423.8,939.1ZM431.9,933.0L438.6,934.2L438.8,941.9L432.0,940.7ZM440.3,934.4L447.2,935.5L447.3,943.2L440.5,942.2ZM448.8,935.7L456.1,936.6L456.2,944.4L448.9,943.5ZM458.1,936.8L465.3,937.5L465.4,945.4L458.2,944.7ZM467.2,937.7L474.4,938.3L474.5,946.2L467.3,945.6ZM476.0,938.3L483.7,938.8L483.8,946.8L476.1,946.4ZM485.5,938.8L493.6,939.1L493.7,947.2L485.6,946.9ZM495.8,939.1L503.9,939.1L504.0,947.3L495.9,947.3ZM393.9,936.4L399.6,938.0L399.7,945.4L394.1,943.8ZM401.0,938.4L406.9,939.9L407.0,947.4L401.1,945.8ZM408.6,940.3L414.3,941.7L414.4,949.2L408.7,947.8ZM415.4,941.9L421.8,943.4L422.0,951.0L415.5,949.5ZM423.5,943.7L430.1,945.1L430.2,952.7L423.6,951.3ZM431.7,945.3L438.4,946.6L438.6,954.2L431.9,953.0ZM440.1,946.8L447.0,947.9L447.1,955.6L440.3,954.6ZM448.6,948.1L455.9,949.1L456.0,956.9L448.8,955.9ZM457.9,949.3L465.1,950.1L465.2,957.9L458.0,957.2ZM467.0,950.2L474.2,950.8L474.3,958.8L467.1,958.2ZM475.9,950.9L483.5,951.4L483.6,959.4L476.0,958.9ZM485.3,951.4L493.5,951.7L493.6,959.8L485.4,959.5ZM495.6,951.7L503.8,951.7L503.9,959.9L495.7,959.9ZM393.7,948.3L399.4,950.0L399.5,957.4L393.8,955.7ZM400.8,950.4L406.7,952.0L406.8,959.4L400.9,957.8ZM408.4,952.4L414.0,953.9L414.2,961.4L408.5,959.9ZM415.2,954.1L421.6,955.6L421.8,963.2L415.3,961.7ZM423.3,956.0L429.9,957.4L430.0,965.0L423.4,963.6ZM431.5,957.7L438.3,958.9L438.4,966.6L431.7,965.3ZM440.0,959.2L446.8,960.3L447.0,968.1L440.1,966.9ZM448.5,960.5L455.7,961.5L455.9,969.4L448.6,968.3ZM457.7,961.8L464.9,962.6L465.0,970.5L457.8,969.6ZM466.8,962.7L474.0,963.4L474.1,971.3L466.9,970.7ZM475.7,963.5L483.4,963.9L483.5,972.0L475.8,971.5ZM485.2,964.0L493.3,964.3L493.4,972.4L485.3,972.1ZM495.5,964.3L503.7,964.3L503.8,972.5L495.6,972.5Z" fill="#fff" stroke="#303030" stroke-width="0.85" stroke-linejoin="round"/>
<path d="M478.1,775.0L485.8,775.2L485.9,783.3L478.2,783.1Z" fill="#9c9c9c" stroke="#3c3c3c" stroke-width="0.8" stroke-linejoin="round"/>
<path d="M480.5,775.4V782.9" stroke="#1e1e1e" stroke-width="1.5"/>
<path d="M484.3,775.4V782.9" stroke="#2a2a2a" stroke-width="1.1"/>
<path d="M487.5,775.2L495.6,775.3L495.7,783.4L487.6,783.3Z" fill="#7a7a7a" stroke="#4a4a4a" stroke-width="0.8" stroke-linejoin="round"/>
<path d="M497.7,775.3L505.8,775.3L505.9,783.5L497.8,783.5Z" fill="#7a7a7a" stroke="#4a4a4a" stroke-width="0.8" stroke-linejoin="round"/>
<path d="M477.9,787.6L485.6,787.8L485.7,795.9L478.1,795.6Z" fill="#9c9c9c" stroke="#3c3c3c" stroke-width="0.8" stroke-linejoin="round"/>
<path d="M480.3,788.0V795.4" stroke="#1e1e1e" stroke-width="1.5"/>
<path d="M484.1,788.0V795.4" stroke="#2a2a2a" stroke-width="1.1"/>
<path d="M487.3,787.8L495.5,787.9L495.6,796.0L487.4,795.9Z" fill="#7a7a7a" stroke="#4a4a4a" stroke-width="0.8" stroke-linejoin="round"/>
<path d="M497.5,787.9L505.7,787.9L505.8,796.1L497.6,796.1Z" fill="#7a7a7a" stroke="#4a4a4a" stroke-width="0.8" stroke-linejoin="round"/>
<path d="M477.8,800.2L485.5,800.4L485.6,808.4L477.9,808.2Z" fill="#9c9c9c" stroke="#3c3c3c" stroke-width="0.8" stroke-linejoin="round"/>
<path d="M480.1,800.6V808.0" stroke="#1e1e1e" stroke-width="1.5"/>
<path d="M484.0,800.6V808.0" stroke="#2a2a2a" stroke-width="1.1"/>
<path d="M487.2,800.4L495.3,800.5L495.4,808.6L487.3,808.5Z" fill="#7a7a7a" stroke="#4a4a4a" stroke-width="0.8" stroke-linejoin="round"/>
<path d="M497.4,800.5L505.5,800.5L505.6,808.7L497.5,808.7Z" fill="#7a7a7a" stroke="#4a4a4a" stroke-width="0.8" stroke-linejoin="round"/>
<path d="M477.6,812.7L485.3,813.0L485.4,821.0L477.7,820.8Z" fill="#9c9c9c" stroke="#3c3c3c" stroke-width="0.8" stroke-linejoin="round"/>
<path d="M480.0,813.2V820.6" stroke="#1e1e1e" stroke-width="1.5"/>
<path d="M483.8,813.2V820.6" stroke="#2a2a2a" stroke-width="1.1"/>
<path d="M487.0,813.0L495.2,813.1L495.3,821.2L487.1,821.1Z" fill="#7a7a7a" stroke="#4a4a4a" stroke-width="0.8" stroke-linejoin="round"/>
<path d="M497.2,813.1L505.4,813.1L505.5,821.3L497.3,821.3Z" fill="#7a7a7a" stroke="#4a4a4a" stroke-width="0.8" stroke-linejoin="round"/>
<path d="M477.5,825.3L485.1,825.6L485.2,833.6L477.6,833.3Z" fill="#9c9c9c" stroke="#3c3c3c" stroke-width="0.8" stroke-linejoin="round"/>
<path d="M479.8,825.7V833.2" stroke="#1e1e1e" stroke-width="1.5"/>
<path d="M483.7,825.7V833.2" stroke="#2a2a2a" stroke-width="1.1"/>
<path d="M486.9,825.6L495.0,825.7L495.1,833.8L487.0,833.7Z" fill="#7a7a7a" stroke="#4a4a4a" stroke-width="0.8" stroke-linejoin="round"/>
<path d="M497.1,825.7L505.2,825.7L505.3,833.9L497.2,833.9Z" fill="#7a7a7a" stroke="#4a4a4a" stroke-width="0.8" stroke-linejoin="round"/>
<path d="M477.3,837.9L485.0,838.1L485.1,846.2L477.4,845.9Z" fill="#9c9c9c" stroke="#3c3c3c" stroke-width="0.8" stroke-linejoin="round"/>
<path d="M479.7,838.3V845.7" stroke="#1e1e1e" stroke-width="1.5"/>
<path d="M483.5,838.3V845.7" stroke="#2a2a2a" stroke-width="1.1"/>
<path d="M486.7,838.2L494.9,838.3L495.0,846.4L486.8,846.3Z" fill="#7a7a7a" stroke="#4a4a4a" stroke-width="0.8" stroke-linejoin="round"/>
<path d="M496.9,838.3L505.1,838.3L505.2,846.5L497.0,846.5Z" fill="#7a7a7a" stroke="#4a4a4a" stroke-width="0.8" stroke-linejoin="round"/>
<path d="M477.1,850.4L484.8,850.7L484.9,858.8L477.2,858.5Z" fill="#9c9c9c" stroke="#3c3c3c" stroke-width="0.8" stroke-linejoin="round"/>
<path d="M479.5,850.9V858.3" stroke="#1e1e1e" stroke-width="1.5"/>
<path d="M483.3,850.9V858.3" stroke="#2a2a2a" stroke-width="1.1"/>
<path d="M486.5,850.7L494.7,850.9L494.8,859.0L486.7,858.9Z" fill="#7a7a7a" stroke="#4a4a4a" stroke-width="0.8" stroke-linejoin="round"/>
<path d="M496.8,850.9L505.0,850.9L505.1,859.1L496.9,859.1Z" fill="#7a7a7a" stroke="#4a4a4a" stroke-width="0.8" stroke-linejoin="round"/>
<path d="M477.0,863.0L484.7,863.3L484.8,871.3L477.1,871.0Z" fill="#9c9c9c" stroke="#3c3c3c" stroke-width="0.8" stroke-linejoin="round"/>
<path d="M479.3,863.4V870.9" stroke="#1e1e1e" stroke-width="1.5"/>
<path d="M483.2,863.4V870.9" stroke="#2a2a2a" stroke-width="1.1"/>
<path d="M486.4,863.3L494.6,863.5L494.7,871.6L486.5,871.4Z" fill="#7a7a7a" stroke="#4a4a4a" stroke-width="0.8" stroke-linejoin="round"/>
<path d="M496.7,863.5L504.8,863.5L504.9,871.7L496.8,871.7Z" fill="#7a7a7a" stroke="#4a4a4a" stroke-width="0.8" stroke-linejoin="round"/>
<path d="M476.8,875.5L484.5,875.9L484.6,883.9L476.9,883.6Z" fill="#9c9c9c" stroke="#3c3c3c" stroke-width="0.8" stroke-linejoin="round"/>
<path d="M479.2,876.0V883.5" stroke="#1e1e1e" stroke-width="1.5"/>
<path d="M483.0,876.0V883.5" stroke="#2a2a2a" stroke-width="1.1"/>
<path d="M486.2,875.9L494.4,876.1L494.5,884.2L486.3,884.0Z" fill="#7a7a7a" stroke="#4a4a4a" stroke-width="0.8" stroke-linejoin="round"/>
<path d="M496.5,876.1L504.7,876.1L504.8,884.3L496.6,884.3Z" fill="#7a7a7a" stroke="#4a4a4a" stroke-width="0.8" stroke-linejoin="round"/>
<path d="M476.7,888.1L484.3,888.5L484.4,896.5L476.8,896.1Z" fill="#9c9c9c" stroke="#3c3c3c" stroke-width="0.8" stroke-linejoin="round"/>
<path d="M479.0,888.6V896.0" stroke="#1e1e1e" stroke-width="1.5"/>
<path d="M482.9,888.6V896.0" stroke="#2a2a2a" stroke-width="1.1"/>
<path d="M486.1,888.5L494.2,888.7L494.4,896.8L486.2,896.6Z" fill="#7a7a7a" stroke="#4a4a4a" stroke-width="0.8" stroke-linejoin="round"/>
<path d="M496.4,888.7L504.5,888.7L504.6,896.9L496.5,896.9Z" fill="#7a7a7a" stroke="#4a4a4a" stroke-width="0.8" stroke-linejoin="round"/>
<path d="M476.5,900.7L484.2,901.0L484.3,909.1L476.6,908.7Z" fill="#9c9c9c" stroke="#3c3c3c" stroke-width="0.8" stroke-linejoin="round"/>
<path d="M478.9,901.2V908.6" stroke="#1e1e1e" stroke-width="1.5"/>
<path d="M482.7,901.2V908.6" stroke="#2a2a2a" stroke-width="1.1"/>
<path d="M485.9,901.1L494.1,901.3L494.2,909.4L486.0,909.2Z" fill="#7a7a7a" stroke="#4a4a4a" stroke-width="0.8" stroke-linejoin="round"/>
<path d="M496.2,901.3L504.4,901.3L504.5,909.5L496.3,909.5Z" fill="#7a7a7a" stroke="#4a4a4a" stroke-width="0.8" stroke-linejoin="round"/>
<path d="M476.3,913.2L484.0,913.6L484.1,921.7L476.4,921.3Z" fill="#9c9c9c" stroke="#3c3c3c" stroke-width="0.8" stroke-linejoin="round"/>
<path d="M478.7,913.7V921.2" stroke="#1e1e1e" stroke-width="1.5"/>
<path d="M482.5,913.7V921.2" stroke="#2a2a2a" stroke-width="1.1"/>
<path d="M485.8,913.7L493.9,913.9L494.0,922.0L485.9,921.8Z" fill="#7a7a7a" stroke="#4a4a4a" stroke-width="0.8" stroke-linejoin="round"/>
<path d="M496.1,913.9L504.2,913.9L504.3,922.1L496.2,922.1Z" fill="#7a7a7a" stroke="#4a4a4a" stroke-width="0.8" stroke-linejoin="round"/>
<g fill="none" stroke="#111" stroke-width="2">
<path d="M364.2,801.6H426M364.2,862.6H424M511.2,692V745.6M574.9,673.5V726M670.2,644.2V713.4M605.1,974.4V1002.3M686.5,980.5H734"/>
</g>
<path d="M422.4,857.9L435.1,862.6L422.4,867.3Z" fill="#1a1a1a"/></g>
<!--TABLE-->
<g>
<rect x="76" y="1042" width="41" height="338" fill="#e6e6e6"/>
<rect x="603" y="1042" width="42.5" height="338" fill="#e6e6e6"/>
<g stroke="#231f20" stroke-width="1.3" fill="none">
<path d="M117,1041V1381" stroke-width="2"/>
<path d="M645.5,1041V1381" stroke-width="1.2"/>
<path d="M75,1074.5H946M75,1105.4H946M75,1175.3H946M75,1275.3H946"/>
<path d="M603,1140.5H946M603,1211.4H946M603,1245.5H946M603,1309.5H946M603,1344.7H946"/>
</g>
<path d="M602.6,1041V1381" stroke="#231f20" stroke-width="2.8"/>
<g stroke="#8a8a8a" stroke-width="1" stroke-dasharray="5.2 2.9" fill="none">
<path d="M132.7,1140.5H600M132.7,1224.5H600M132.7,1327.5H600"/>
</g>
<rect x="74.6" y="1040.8" width="871.2" height="340.4" fill="none" stroke="#231f20" stroke-width="3"/>
</g>
</svg>
</body></html>
